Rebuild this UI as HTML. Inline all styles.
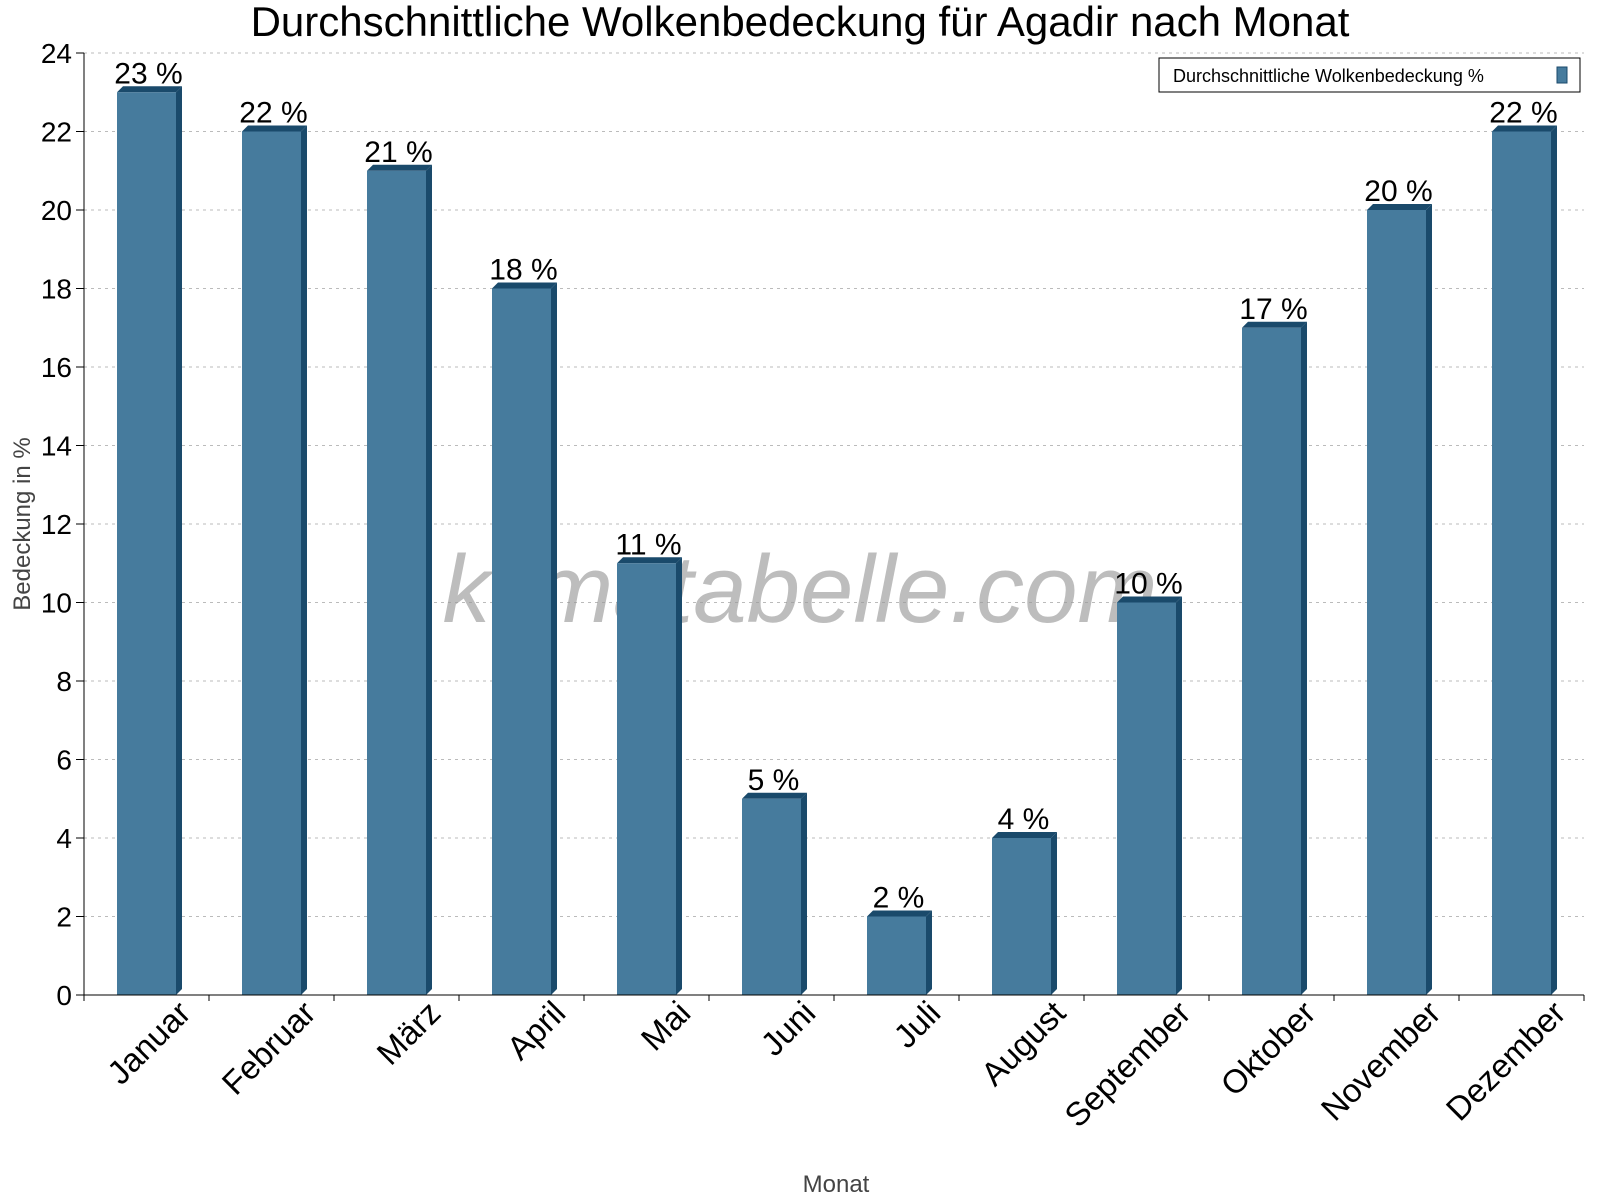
<!DOCTYPE html>
<html><head><meta charset="utf-8"><style>body{margin:0;background:#fff}svg{display:block;font-family:"Liberation Sans",sans-serif}</style></head>
<body>
<svg id="chart" width="1600" height="1200" viewBox="0 0 1600 1200">
<text x="800" y="36" font-size="42" text-anchor="middle">Durchschnittliche Wolkenbedeckung für Agadir nach Monat</text>
<g id="grid"></g>
<text x="800" y="622" font-size="96" font-style="italic" fill="#999" fill-opacity="0.65" text-anchor="middle">klimatabelle.com</text>
<g id="bars"></g>
<g id="axes"></g>
<text transform="translate(30,524) rotate(-90)" font-size="24" fill="#444" text-anchor="middle">Bedeckung in %</text>
<text x="836" y="1192" font-size="24" fill="#444" text-anchor="middle">Monat</text>
<g>
<rect x="1159" y="58" width="421" height="34" fill="#fff" stroke="#000" stroke-width="1"/>
<text x="1173" y="82" font-size="18">Durchschnittliche Wolkenbedeckung %</text>
<rect x="1557" y="67" width="10" height="16" fill="#467b9d" stroke="#1a4a6b"/>
</g>
</svg>
<script>
const months=["Januar","Februar","März","April","Mai","Juni","Juli","August","September","Oktober","November","Dezember"];
const cover=[23,22,21,18,11,5,2,4,10,17,20,22];
const yTicks=[0,2,4,6,8,10,12,14,16,18,20,22,24];
const NS="http://www.w3.org/2000/svg";
const L=84,R=1584,T=53,B=995,yMax=24;
const y=v=>B-(v/yMax)*(B-T);
const bw=(R-L)/months.length;
const xc=i=>L+bw*(i+0.5);
function mk(tag,attrs,parent,txt){const e=document.createElementNS(NS,tag);for(const k in attrs)e.setAttribute(k,attrs[k]);if(txt!==undefined)e.textContent=txt;parent.appendChild(e);return e;}
const grid=document.getElementById('grid'),bars=document.getElementById('bars'),axes=document.getElementById('axes');
yTicks.forEach(t=>{
 if(t>0){const g=mk('line',{x1:L,x2:R,y1:y(t),y2:y(t),stroke:'#bbb','stroke-dasharray':'3,4'},grid);
 
 }
 const tk=mk('line',{x1:L-8,x2:L,y1:y(t),y2:y(t),stroke:'#000'},axes);
 
 
 const lb=mk('text',{x:L-12,y:y(t)+10,'font-size':28,'text-anchor':'end'},axes,String(t));
 
 
});
const w=59,d=6;
cover.forEach((v,i)=>{
 const x0=xc(i)-w/2,yt=y(v);
 const g=mk('g',{},bars);
 
 
 mk('polygon',{points:`${x0},${yt} ${x0+d},${yt-d} ${x0+w+d},${yt-d} ${x0+w},${yt}`,fill:'#1a4a6b'},g);
 mk('polygon',{points:`${x0+w},${yt} ${x0+w+d},${yt-d} ${x0+w+d},${B-d} ${x0+w},${B}`,fill:'#1a4a6b'},g);
 mk('rect',{x:x0,y:yt,width:w,height:B-yt,fill:'#467b9d'},g);
 const vl=mk('text',{x:xc(i)+2,y:yt-9,'font-size':30,'text-anchor':'middle'},bars,v+' %');
 
 
 const ml=mk('text',{transform:`translate(${xc(i)+46},${B+20}) rotate(-45)`,'font-size':33,'text-anchor':'end'},axes,months[i]);
 
 
});
for(let i=0;i<=months.length;i++){const tk=mk('line',{x1:L+bw*i,x2:L+bw*i,y1:B,y2:B+6,stroke:'#000'},axes);
 
 }
const ya=mk('line',{x1:L,x2:L,y1:T,y2:B,stroke:'#000'},axes);


const xa=mk('line',{x1:L,x2:R,y1:B,y2:B,stroke:'#000'},axes);


</script>
</body></html>
